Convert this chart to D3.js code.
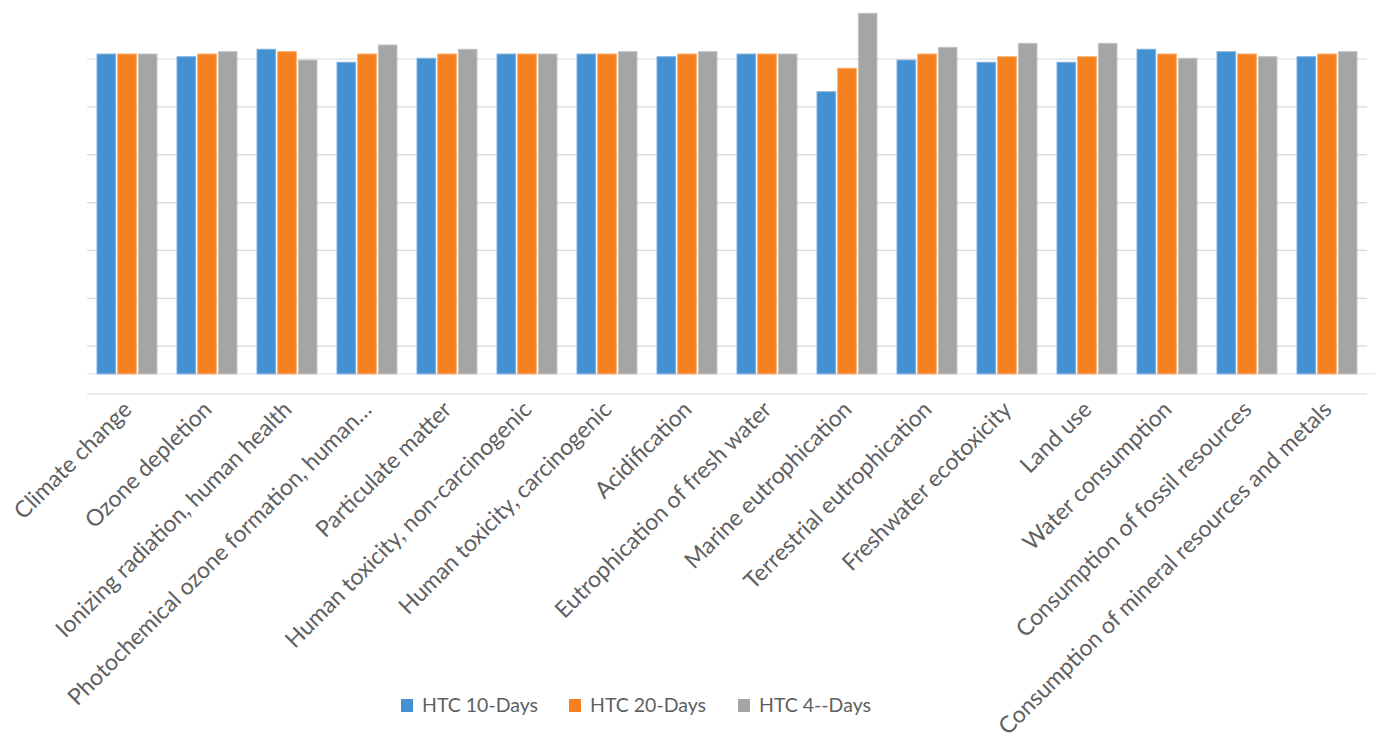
<!DOCTYPE html>
<html>
<head>
<meta charset="utf-8">
<script src="https://cdn.jsdelivr.net/npm/d3@7"></script>
<style>
  html, body { margin: 0; padding: 0; background: #fff; }
  svg { display: block; }
  text { font-family: Lato, "Open Sans", "Liberation Sans", sans-serif; fill: #5f5f5f; }
</style>
</head>
<body>
<svg id="chart" width="1381" height="740"></svg>
<script>
// Impact categories along the horizontal axis
const categories = [
  "Climate change",
  "Ozone depletion",
  "Ionizing radiation, human health",
  "Photochemical ozone formation, human…",
  "Particulate matter",
  "Human toxicity, non-carcinogenic",
  "Human toxicity, carcinogenic",
  "Acidification",
  "Eutrophication of fresh water",
  "Marine eutrophication",
  "Terrestrial eutrophication",
  "Freshwater ecotoxicity",
  "Land use",
  "Water consumption",
  "Consumption of fossil resources",
  "Consumption of mineral resources and metals"
];

// Series names and values
const seriesNames = ["HTC 10-Days", "HTC 20-Days", "HTC 4--Days"];
const htc10 = [71.04, 70.48, 72.03, 69.31, 70.15, 71.04, 71.04, 70.48, 71.04, 63.17, 69.79, 69.31, 69.31, 72.03, 71.53, 70.48];
const htc20 = [71.04, 71.04, 71.53, 71.04, 71.04, 71.04, 71.04, 71.04, 71.04, 68.06, 71.04, 70.48, 70.48, 71.04, 71.04, 71.04];
const htc40 = [71.04, 71.53, 69.79, 72.93, 72.03, 71.04, 71.53, 71.53, 71.04, 79.55, 72.45, 73.28, 73.28, 70.15, 70.48, 71.53];
const seriesColors = ["#4391d0", "#f5801f", "#a5a5a5"];
const seriesEdge = ["#7fb4e0", "#f9ad6d", "#c4c4c4"];

// Value axis: gridlines every 10 units, category axis crossing value
const gridTicks = [0, 10, 20, 30, 40, 50, 60, 70];
const axisCross = 4.2;

const svg = d3.select("#chart");
const plot = { left: 87, right: 1367, top: 59, bottom: 394 };

const x = d3.scaleBand()
  .domain(categories)
  .range([plot.left, plot.right])
  .paddingInner(0.25)
  .paddingOuter(0.125);

const y = d3.scaleLinear()
  .domain([0, 70])
  .range([plot.bottom, plot.top]);

const xs = d3.scaleBand()
  .domain(seriesNames)
  .range([0, x.bandwidth()])
  .paddingInner(0.1);

// Gridlines
svg.append("g")
  .selectAll("line")
  .data(gridTicks)
  .join("line")
  .attr("x1", plot.left)
  .attr("x2", plot.right)
  .attr("y1", d => y(d))
  .attr("y2", d => y(d))
  .attr("stroke", "#d9d9d9")
  .attr("stroke-width", 1.2);

// Category axis line
svg.append("line")
  .attr("x1", plot.left)
  .attr("x2", plot.right + 8)
  .attr("y1", y(axisCross))
  .attr("y2", y(axisCross))
  .attr("stroke", "#e3e3e3")
  .attr("stroke-width", 1.2);

// Bars
const allSeries = [htc10, htc20, htc40];
const rows = [];
allSeries.forEach((vals, si) => {
  vals.forEach((v, ci) => rows.push({ si, cat: categories[ci], v }));
});

svg.append("g")
  .selectAll("rect")
  .data(rows)
  .join("rect")
  .attr("x", d => x(d.cat) + xs(seriesNames[d.si]))
  .attr("width", xs.bandwidth())
  .attr("y", d => y(d.v))
  .attr("height", d => y(axisCross) - y(d.v))
  .attr("fill", d => seriesColors[d.si])
  .attr("stroke", d => seriesEdge[d.si])
  .attr("stroke-width", 1);

// Rotated category labels
svg.append("g")
  .selectAll("text")
  .data(categories)
  .join("text")
  .attr("transform", d => `translate(${x(d) + x.bandwidth() / 2 + 6},${411}) rotate(-45)`)
  .attr("text-anchor", "end")
  .style("font-size", "23px")
  .text(d => d);

// Legend
const legendX = [401, 569, 738];
const legend = svg.append("g");
seriesNames.forEach((name, i) => {
  legend.append("rect")
    .attr("x", legendX[i])
    .attr("y", 699)
    .attr("width", 12)
    .attr("height", 13)
    .attr("fill", seriesColors[i]);
  legend.append("text")
    .attr("x", legendX[i] + 21)
    .attr("y", 712)
    .style("font-size", "19.5px")
    .text(name);
});
</script>
</body>
</html>
